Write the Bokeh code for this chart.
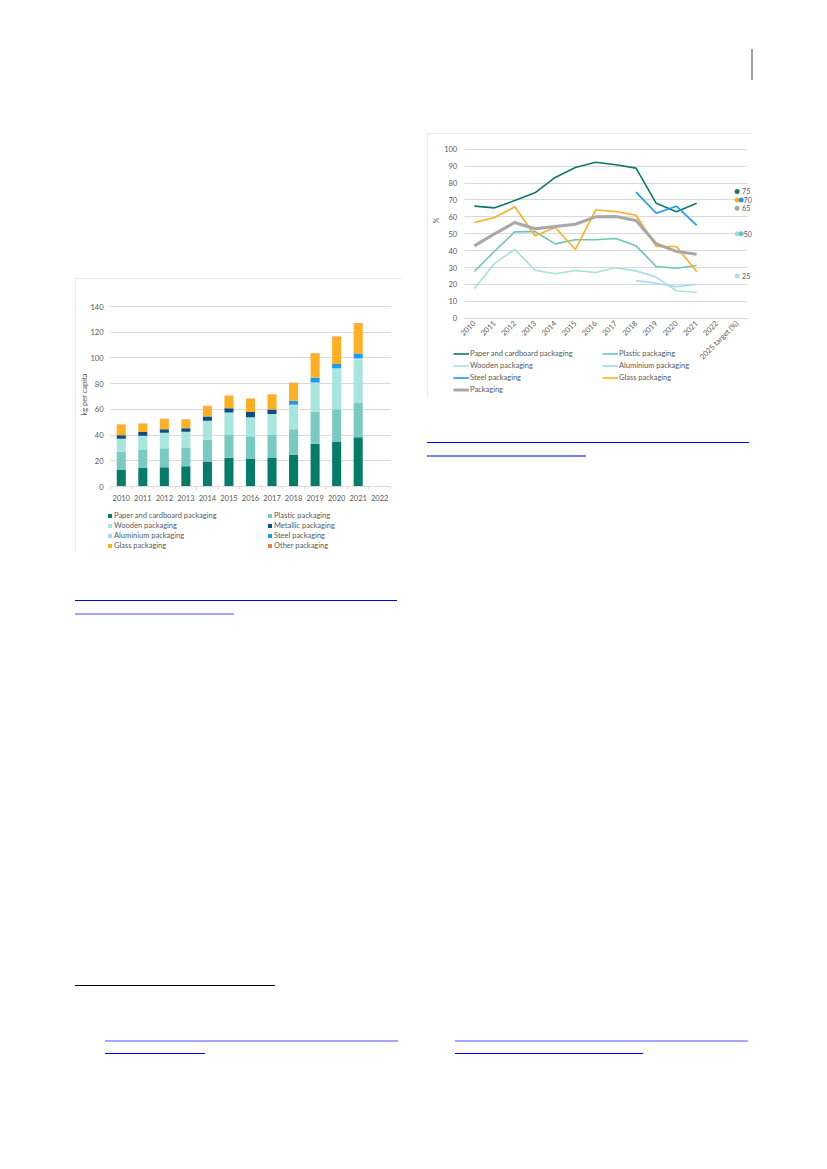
import math
from bokeh.plotting import figure
from bokeh.models import (ColumnDataSource, Legend, LegendItem, Label, LabelSet, Div,
                          FixedTicker, Range1d, LinearAxis, Grid)
from bokeh.layouts import row, column
from bokeh.embed import file_html
from bokeh.resources import INLINE
from bokeh.core.properties import value

FONT = "Lato"
TXT = "#595959"
GRID = "#D9D9D9"
FS = "7.5px"
nan = float("nan")

# ---------------- bar chart data (kg per capita) ----------------
years = ["2010", "2011", "2012", "2013", "2014", "2015", "2016",
         "2017", "2018", "2019", "2020", "2021", "2022"]
paper = [13.2, 14.5, 15.0, 15.8, 19.5, 22.3, 21.4, 22.6, 24.7, 33.2, 35.0, 38.4, nan]
plastic = [13.8, 13.8, 14.8, 14.6, 16.8, 18.2, 17.6, 17.8, 19.9, 24.9, 25.1, 27.0, nan]
wooden = [10.1, 11.1, 12.0, 12.2, 14.8, 17.1, 14.9, 15.9, 18.4, 22.2, 31.2, 33.4, nan]
metallic = [2.8, 2.9, 2.8, 2.8, 3.4, 3.3, 4.0, 3.6, 0.0, 0.0, 0.0, 0.0, nan]
aluminium = [0.0, 0.0, 0.0, 0.0, 0.0, 0.0, 0.0, 0.0, 0.5, 0.6, 0.6, 1.0, nan]
steel = [0.0, 0.0, 0.0, 0.0, 0.0, 0.0, 0.0, 0.0, 3.2, 3.9, 3.3, 3.7, nan]
glass = [8.0, 6.5, 7.8, 6.7, 8.0, 9.6, 10.3, 11.6, 13.6, 18.5, 21.1, 23.2, nan]
other = [0.3, 0.3, 0.3, 0.3, 0.3, 0.3, 0.3, 0.3, 0.4, 0.4, 0.4, 0.4, nan]

bar_keys = ["paper", "plastic", "wooden", "metallic", "aluminium", "steel", "glass", "other"]
bar_labels = ["Paper and cardboard packaging", "Plastic packaging", "Wooden packaging",
              "Metallic packaging", "Aluminium packaging", "Steel packaging",
              "Glass packaging", "Other packaging"]
bar_colors = ["#047C68", "#79CAC0", "#A6E6DD", "#0A4D88", "#A9D9F7", "#1B9CF2",
              "#FFAF22", "#EF7E55"]
bar_ticks = [0, 20, 40, 60, 80, 100, 120, 140]

# ---------------- line chart data (recycling rate, %) ----------------
lcats = ["2010", "2011", "2012", "2013", "2014", "2015", "2016", "2017",
         "2018", "2019", "2020", "2021", "2022", "2025 target (%)"]
r_paper = [66.3, 65.3, 69.6, 74.2, 83.3, 89.2, 92.3, 90.8, 88.8, 68.0, 63.0, 68.0, nan, nan]
r_plastic = [27.6, 39.6, 51.1, 51.3, 44.0, 46.4, 46.4, 47.2, 42.8, 30.6, 29.6, 31.2, nan, nan]
r_wooden = [17.6, 32.4, 40.8, 28.4, 26.3, 28.2, 27.0, 29.8, 28.0, 24.3, 16.2, 15.2, nan, nan]
r_alu = [nan, nan, nan, nan, nan, nan, nan, nan, 22.3, 20.7, 18.6, 20.1, nan, nan]
r_steel = [nan, nan, nan, nan, nan, nan, nan, nan, 74.6, 62.1, 66.3, 54.9, nan, nan]
r_glass = [56.6, 59.6, 65.9, 48.8, 53.7, 40.7, 64.0, 63.1, 60.9, 42.4, 42.4, 27.5, nan, nan]
r_pack = [42.8, 49.9, 56.6, 52.9, 54.3, 55.6, 60.0, 60.2, 57.8, 44.0, 39.5, 37.9, nan, nan]
targets = [75, 50, 25, 50, 70, 70, 65]
line_ticks = [0, 10, 20, 30, 40, 50, 60, 70, 80, 90, 100]

line_series = [r_paper, r_plastic, r_wooden, r_alu, r_steel, r_glass, r_pack]
line_labels = ["Paper and cardboard packaging", "Plastic packaging", "Wooden packaging",
               "Aluminium packaging", "Steel packaging", "Glass packaging", "Packaging"]
line_colors = ["#0B7A67", "#6CC6B7", "#A3E4DA", "#A7D4F5", "#1A99F0", "#FFAE1F", "#A8A8A8"]
line_widths = [1.6, 1.6, 1.6, 1.6, 1.6, 1.6, 3.0]

BORDER = {"outline": "1px solid #D9D9D9", "outline-offset": "-1px"}


def base_figure(w, h, xr, yr):
    p = figure(width=w, height=h, x_range=Range1d(*xr), y_range=Range1d(*yr),
               output_backend="svg", toolbar_location=None, title=None,
               x_axis_location=None, y_axis_location=None,
               min_border=0, min_border_left=0, min_border_right=0,
               min_border_top=0, min_border_bottom=0)
    for g in p.grid:
        g.visible = False
    p.outline_line_color = None
    p.styles = BORDER
    return p


def add_axes(p, xticker, yticker, xbounds, ystandoff, xstandoff):
    ax = LinearAxis(ticker=xticker, fixed_location=0, bounds=xbounds)
    ay = LinearAxis(ticker=yticker, fixed_location=xbounds[0])
    for a in (ax, ay):
        a.major_label_text_font = FONT
        a.major_label_text_font_size = FS
        a.major_label_text_color = TXT
        a.major_tick_out = 0
        a.major_tick_in = 0
        a.minor_tick_in = 0
        a.minor_tick_out = 0
    ax.axis_line_color = GRID
    ay.axis_line_color = None
    ay.major_label_standoff = ystandoff
    ax.major_label_standoff = xstandoff
    p.add_layout(ax, "below")
    p.add_layout(ay, "left")
    g = Grid(dimension=1, ticker=yticker, grid_line_color=GRID)
    try:
        g.cross_bounds = xbounds
    except Exception:
        g.visible = False
        p.segment(x0=xbounds[0], x1=xbounds[1], y0=list(yticker.ticks), y1=list(yticker.ticks),
                  line_color=GRID, line_width=1, level="underlay")
    p.add_layout(g)
    return ax, ay


def make_legend(items, loc, gw, gh, spacing, standoff):
    return Legend(items=items, location=loc, orientation="vertical", padding=0, margin=0,
                  spacing=spacing, glyph_width=gw, glyph_height=gh, label_height=9,
                  label_standoff=standoff, label_text_font=FONT, label_text_font_size=FS,
                  label_text_color=TXT, border_line_color=None, background_fill_alpha=0)


# ---------------- bar chart ----------------
bx = list(range(len(years)))
src = ColumnDataSource(dict(x=bx, paper=paper, plastic=plastic, wooden=wooden,
                            metallic=metallic, aluminium=aluminium, steel=steel,
                            glass=glass, other=other))
p1 = base_figure(328, 274, (-2.125, 13.104), (-51.33, 161.78))
rs = p1.vbar_stack(bar_keys, x="x", width=0.42, source=src,
                   fill_color=bar_colors, line_color=None)
bxt = FixedTicker(ticks=bx, minor_ticks=[i - 0.5 for i in range(len(years) + 1)])
ax1, ay1 = add_axes(p1, bxt, FixedTicker(ticks=bar_ticks), (-0.5, len(years) - 0.5), 7, 5)
ax1.major_label_overrides = {i: y for i, y in enumerate(years)}
ax1.minor_tick_out = 3
ax1.minor_tick_line_color = GRID
p1.add_layout(Label(x=-1.69, y=71.6, text="kg per capita", angle=math.pi / 2,
                    text_align="center", text_baseline="middle", text_font=FONT,
                    text_font_size=FS, text_color=TXT))
col1 = [0, 2, 4, 6]
col2 = [1, 3, 5, 7]
p1.add_layout(make_legend([LegendItem(label=bar_labels[i], renderers=[rs[i]]) for i in col1],
                          (32, 2.5), 5, 5, 1, 2))
p1.add_layout(make_legend([LegendItem(label=bar_labels[i], renderers=[rs[i]]) for i in col2],
                          (192, 2.5), 5, 5, 1, 2))

# ---------------- line chart ----------------
xs = list(range(len(lcats)))
p2 = base_figure(325, 264, (-2.316, 13.762), (-46.92, 109.29))
lrs = []
for ys, c, w in zip(line_series, line_colors, line_widths):
    lrs.append(p2.line(xs, ys, line_color=c, line_width=w))

# target markers at the last category; where values coincide, the earlier
# series is nudged to the right (as in the original chart)
tx, ty, tc = [], [], []
seen = {}
for t, c in reversed(list(zip(targets, line_colors))):
    k = seen.get(t, 0)
    seen[t] = k + 1
    tx.append(xs[-1] + 0.2 * k)
    ty.append(t)
    tc.append(c)
p2.scatter(tx, ty, size=5, fill_color=tc, line_color=None)
uniq = sorted(set(targets), reverse=True)
lab_src = ColumnDataSource(dict(x=[xs[-1]] * len(uniq), y=uniq, t=[str(u) for u in uniq],
                                off=[5.0 + 1.5 * (seen[u] - 1) for u in uniq]))
p2.add_layout(LabelSet(x="x", y="y", text="t", x_offset="off", text_baseline="middle",
                       text_font=value(FONT), text_font_size="7.2px", text_color=TXT,
                       source=lab_src))

ax2, ay2 = add_axes(p2, FixedTicker(ticks=xs), FixedTicker(ticks=line_ticks),
                    (-0.5, len(lcats) - 0.5), 7, 4)
ax2.major_label_overrides = {i: lab for i, lab in enumerate(lcats)}
ax2.major_label_orientation = math.pi / 4
p2.add_layout(Label(x=-1.87, y=57.8, text="%", angle=math.pi / 2, text_align="center",
                    text_baseline="middle", text_font=FONT, text_font_size=FS,
                    text_color=TXT))
lc1 = [0, 2, 4, 6]
lc2 = [1, 3, 5]
p2.add_layout(make_legend([LegendItem(label=line_labels[i], renderers=[lrs[i]]) for i in lc1],
                          (26, 3), 16, 9, 3, 1))
p2.add_layout(make_legend([LegendItem(label=line_labels[i], renderers=[lrs[i]]) for i in lc2],
                          (175, 15), 16, 9, 3, 1))


# ---------------- page decorations (rules and link underlines) ----------------
def deco(width, height, bars):
    inner = "".join(
        f'<div style="position:absolute;left:{l}px;top:{t}px;width:{w}px;height:{h}px;'
        f'background:{c}"></div>' for l, t, w, h, c in bars)
    return Div(text=f'<div style="position:relative;width:{width}px;height:{height}px">'
                    f'{inner}</div>', width=width, height=height, margin=0)


left_top = deco(328, 278, [])
left_bottom = deco(328, 520, [
    (0, 48, 322, 1, "#0000FF"),
    (0, 61, 159, 2, "#A6A6FF"),
    (0, 433, 200, 1, "#000000"),
    (30, 488, 293, 2, "#A6A6FF"),
    (30, 501, 100, 1, "#0000FF"),
])
right_top = deco(327, 133, [(324, 49, 2, 31, "#A0A0A0")])
right_bottom = deco(327, 680, [
    (0, 45, 322, 1, "#0000FF"),
    (0, 58, 159, 2, "#7B7BFF"),
    (28, 643, 293, 2, "#A6A6FF"),
    (28, 656, 188, 1, "#0000FF"),
])

page = row(
    Div(text="", width=75, height=10, margin=0),
    column(left_top, p1, left_bottom),
    Div(text="", width=24, height=10, margin=0),
    column(right_top, p2, right_bottom),
)

open("out.html", "w").write(file_html(page, INLINE))
